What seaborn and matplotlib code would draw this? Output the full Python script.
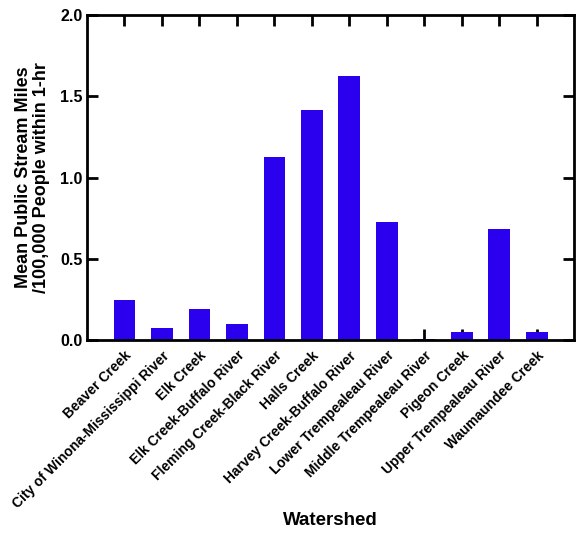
import matplotlib
matplotlib.use("Agg")
import matplotlib.pyplot as plt
import matplotlib.transforms as mtransforms
import seaborn as sns
import pandas as pd

watersheds = ["Beaver Creek", "City of Winona-Mississippi River", "Elk Creek",
              "Elk Creek-Buffalo River", "Fleming Creek-Black River", "Halls Creek",
              "Harvey Creek-Buffalo River", "Lower Trempealeau River",
              "Middle Trempealeau River", "Pigeon Creek", "Upper Trempealeau River",
              "Waumaundee Creek"]
values = [0.25, 0.076, 0.189, 0.10, 1.128, 1.415, 1.625, 0.728, 0.006, 0.05, 0.687, 0.05]

df = pd.DataFrame({"Watershed": watersheds, "Value": values})

sns.set_theme(style="ticks")
plt.rcParams['font.family'] = ['Liberation Sans', 'DejaVu Sans']
plt.rcParams['text.color'] = 'black'
plt.rcParams['axes.labelcolor'] = 'black'
plt.rcParams['xtick.color'] = 'black'
plt.rcParams['ytick.color'] = 'black'

fig = plt.figure(figsize=(5.76, 5.4), dpi=100)
ax = fig.add_axes([0.151, 0.370, 0.846, 0.602])

sns.barplot(data=df, x="Watershed", y="Value", color="#2a00ee", saturation=1,
            width=0.58, ax=ax, edgecolor="none")

ax.set_xlim(-1, len(watersheds))
ax.set_ylim(0, 2.0)
ax.set_yticks([0.0, 0.5, 1.0, 1.5, 2.0])
ax.set_yticklabels(["0.0", "0.5", "1.0", "1.5", "2.0"], fontsize=11.5, fontweight="bold")
ax.set_xticks(range(len(watersheds)))
ax.set_xticklabels(watersheds, rotation=45, ha="right", rotation_mode="anchor",
                   fontsize=10, fontweight="bold")
offset = mtransforms.ScaledTranslation(5 / 72, -3 / 72, fig.dpi_scale_trans)
for lbl in ax.get_xticklabels():
    lbl.set_transform(lbl.get_transform() + offset)

ax.tick_params(axis="both", direction="in", length=8, width=2, colors="black",
               top=True, right=True, bottom=True, left=True)
ax.tick_params(axis="x", pad=6)
ax.tick_params(axis="y", pad=3)
for s in ax.spines.values():
    s.set_visible(True)
    s.set_linewidth(2)
    s.set_color("black")

ax.set_ylabel("Mean Public Stream Miles\n/100,000 People within 1-hr",
              fontsize=13, fontweight="bold", linespacing=1.1)
ax.set_xlabel("Watershed", fontsize=13.5, fontweight="bold")
ax.xaxis.set_label_coords(0.5, -0.53)
ax.yaxis.set_label_coords(-0.075, 0.5)

fig.savefig("out.png", dpi=100)
